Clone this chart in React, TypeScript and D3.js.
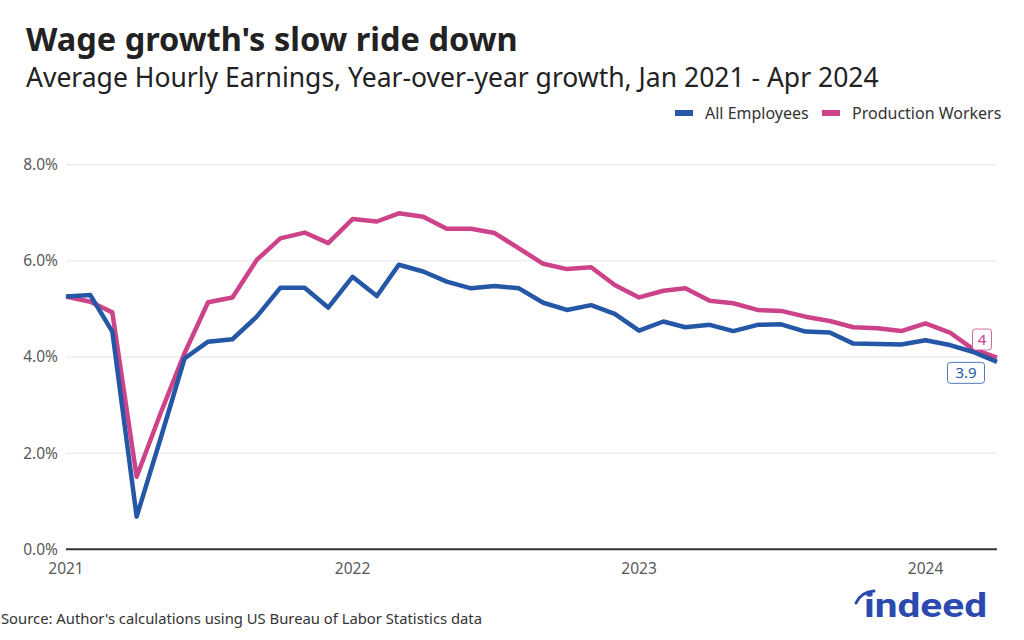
import React, { useEffect, useRef } from "react";
import * as d3 from "d3";

// monthly, Jan 2021 - Apr 2024
const months = d3.timeMonth.range(new Date(2021, 0, 1), new Date(2024, 4, 1));

const allEmployees = [
  5.26, 5.29, 4.53, 0.68, 2.28, 3.97, 4.32, 4.37, 4.84, 5.44,
  5.44, 5.03, 5.67, 5.27, 5.92, 5.78, 5.57, 5.43, 5.48, 5.43,
  5.13, 4.98, 5.08, 4.9, 4.55, 4.74, 4.62, 4.67, 4.54, 4.67,
  4.68, 4.53, 4.51, 4.28, 4.27, 4.26, 4.35, 4.25, 4.11, 3.9,
];

const productionWorkers = [
  5.26, 5.15, 4.93, 1.51, 2.81, 4.08, 5.14, 5.24, 6.02, 6.47,
  6.59, 6.37, 6.87, 6.82, 6.99, 6.92, 6.67, 6.67, 6.58, 6.26,
  5.94, 5.83, 5.87, 5.5, 5.24, 5.38, 5.43, 5.17, 5.12, 4.98,
  4.96, 4.84, 4.75, 4.62, 4.6, 4.54, 4.7, 4.51, 4.17, 3.99,
];

const yTicks = [0, 2, 4, 6, 8];
const xTicks = [2021, 2022, 2023, 2024];

const BLUE = "#2557a7";
const PINK = "#cd4389";
const FONT = "'Noto Sans', 'Open Sans', sans-serif";

const App = () => {
  const ref = useRef<SVGSVGElement>(null);

  useEffect(() => {
    document.body.style.margin = "0";
    const svg = d3.select(ref.current);
    svg.selectAll("*").remove();

    const x = d3
      .scaleTime()
      .domain([months[0], months[months.length - 1]])
      .range([66, 997]);
    const y = d3.scaleLinear().domain([0, 8]).range([549.3, 164.8]);

    // titles
    svg.append("text").attr("x", 26).attr("y", 51)
      .attr("font-family", FONT).attr("font-size", 32.5).attr("font-weight", 700)
      .attr("fill", "#222").text("Wage growth's slow ride down");
    svg.append("text").attr("x", 26).attr("y", 87)
      .attr("font-family", FONT).attr("font-size", 26.5)
      .attr("fill", "#222")
      .text("Average Hourly Earnings, Year-over-year growth, Jan 2021 - Apr 2024");

    // legend
    const legend = [
      { name: "All Employees", color: BLUE, x: 675 },
      { name: "Production Workers", color: PINK, x: 822 },
    ];
    legend.forEach((l) => {
      svg.append("rect").attr("x", l.x).attr("y", 110).attr("width", 18).attr("height", 6)
        .attr("fill", l.color);
      svg.append("text").attr("x", l.x + 30).attr("y", 119)
        .attr("font-family", FONT).attr("font-size", 16).attr("fill", "#333")
        .text(l.name);
    });

    // grid + y labels
    const grid = svg.append("g");
    yTicks.forEach((t) => {
      if (t > 0) {
        grid.append("line").attr("x1", 66).attr("x2", 997)
          .attr("y1", y(t)).attr("y2", y(t))
          .attr("stroke", "#e4e4e4").attr("stroke-width", 1);
      }
      grid.append("text").attr("x", 58).attr("y", y(t)).attr("dy", "0.35em")
        .attr("text-anchor", "end").attr("font-family", FONT).attr("font-size", 15.5)
        .attr("fill", "#595959").text(d3.format(".1f")(t) + "%");
    });

    // x labels
    xTicks.forEach((yr) => {
      svg.append("text").attr("x", x(new Date(yr, 0, 1))).attr("y", 574)
        .attr("text-anchor", "middle").attr("font-family", FONT).attr("font-size", 15.5)
        .attr("fill", "#595959").text(yr);
    });

    const line = d3
      .line<number>()
      .x((_, i) => x(months[i]))
      .y((d) => y(d));

    [
      { data: productionWorkers, color: PINK },
      { data: allEmployees, color: BLUE },
    ].forEach((s) => {
      svg.append("path").datum(s.data).attr("d", line)
        .attr("fill", "none").attr("stroke", s.color)
        .attr("stroke-width", 4.5).attr("stroke-linejoin", "round");
    });

    // axis line
    svg.append("line").attr("x1", 66).attr("x2", 997)
      .attr("y1", y(0)).attr("y2", y(0))
      .attr("stroke", "#333").attr("stroke-width", 2);

    // end labels
    const fmt = d3.format(".1~f");
    const last = months.length - 1;
    const ends = [
      { v: productionWorkers[last], color: PINK, dx: -15, dy: -18 },
      { v: allEmployees[last], color: BLUE, dx: -31, dy: 11 },
    ];
    ends.forEach((e) => {
      const cx = x(months[last]) + e.dx;
      const cy = y(e.v) + e.dy;
      const label = fmt(e.v);
      const w = label.length * 9 + 10;
      svg.append("rect").attr("x", cx - w / 2).attr("y", cy - 10.5)
        .attr("width", w).attr("height", 21).attr("rx", 3)
        .attr("fill", "#fff").attr("stroke", e.color).attr("stroke-width", 1)
        .attr("stroke-opacity", 0.8);
      svg.append("text").attr("x", cx).attr("y", cy).attr("dy", "0.36em")
        .attr("text-anchor", "middle").attr("font-family", FONT).attr("font-size", 15)
        .attr("fill", e.color).text(label);
    });

    // source
    svg.append("text").attr("x", 1).attr("y", 624)
      .attr("font-family", FONT).attr("font-size", 14.8).attr("fill", "#333")
      .text("Source: Author's calculations using US Bureau of Labor Statistics data");

    // logo
    const logo = svg.append("g");
    logo.append("text").attr("x", 864).attr("y", 617)
      .attr("font-family", "Roboto, 'Noto Sans', sans-serif").attr("font-size", 33)
      .attr("font-weight", 700).attr("fill", "#2a4ab0")
      .attr("textLength", 123).attr("lengthAdjust", "spacingAndGlyphs")
      .text("indeed");
    logo.append("path")
      .attr("d", "M856,603 Q861,592 874,591")
      .attr("fill", "none").attr("stroke", "#2a4ab0").attr("stroke-width", 3)
      .attr("stroke-linecap", "round");
  }, []);

  return <svg ref={ref} width={1024} height={640} style={{ display: "block" }} />;
};

export default App;
